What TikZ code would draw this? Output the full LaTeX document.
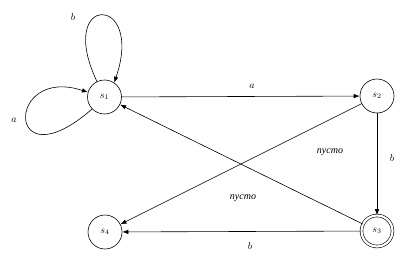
\documentclass[tikz,border=0pt]{standalone}
\usepackage{fontspec}
\newfontfamily\cyrfont{Liberation Serif}
\usetikzlibrary{arrows.meta}
\begin{document}
\begin{tikzpicture}[x=1pt,y=-1pt,
  state/.style={circle,draw,line width=0.6pt,minimum size=34pt,inner sep=0pt,font=\fontsize{10}{12}\selectfont},
  final/.style={state,double,double distance=2.2pt,minimum size=31pt},
  edge/.style={line width=0.6pt,-{Latex[length=6pt,width=4.5pt]}},
  lbl/.style={font=\fontsize{10}{12}\selectfont\itshape}]
\useasboundingbox (0,0) rectangle (411,262);
\node[state] (s1) at (104.5,97) {$s_1$};
\node[state] (s2) at (377,96) {$s_2$};
\node[final] (s3) at (377,231) {$s_3$};
\node[state] (s4) at (105,232) {$s_4$};
\draw[edge] (s1) -- (s2);
\draw[edge] (s2) -- (s3);
\draw[edge] (s3) -- (s4);
\draw[edge] (s3) -- (s1);
\draw[edge] (s2) -- (s4);
\draw[edge] (s1.116) .. controls (55,-7) and (145,-7) .. (s1.56);
\draw[edge] (s1.224) .. controls (5,185) and (5,65) .. (s1.164);
\node[lbl] (la) at (252,86) {$a$};
\node[lbl] (lb1) at (392,158) {$b$};
\node[lbl] (lb2) at (250,246) {$b$};
\node[lbl] (lp1) at (330,152) {\cyrfont\itshape пусто};
\node[lbl] (lp2) at (243,198) {\cyrfont\itshape пусто};
\node[lbl] (lb3) at (73,17) {$b$};
\node[lbl] (la2) at (14,120) {$a$};
\end{tikzpicture}
\end{document}
